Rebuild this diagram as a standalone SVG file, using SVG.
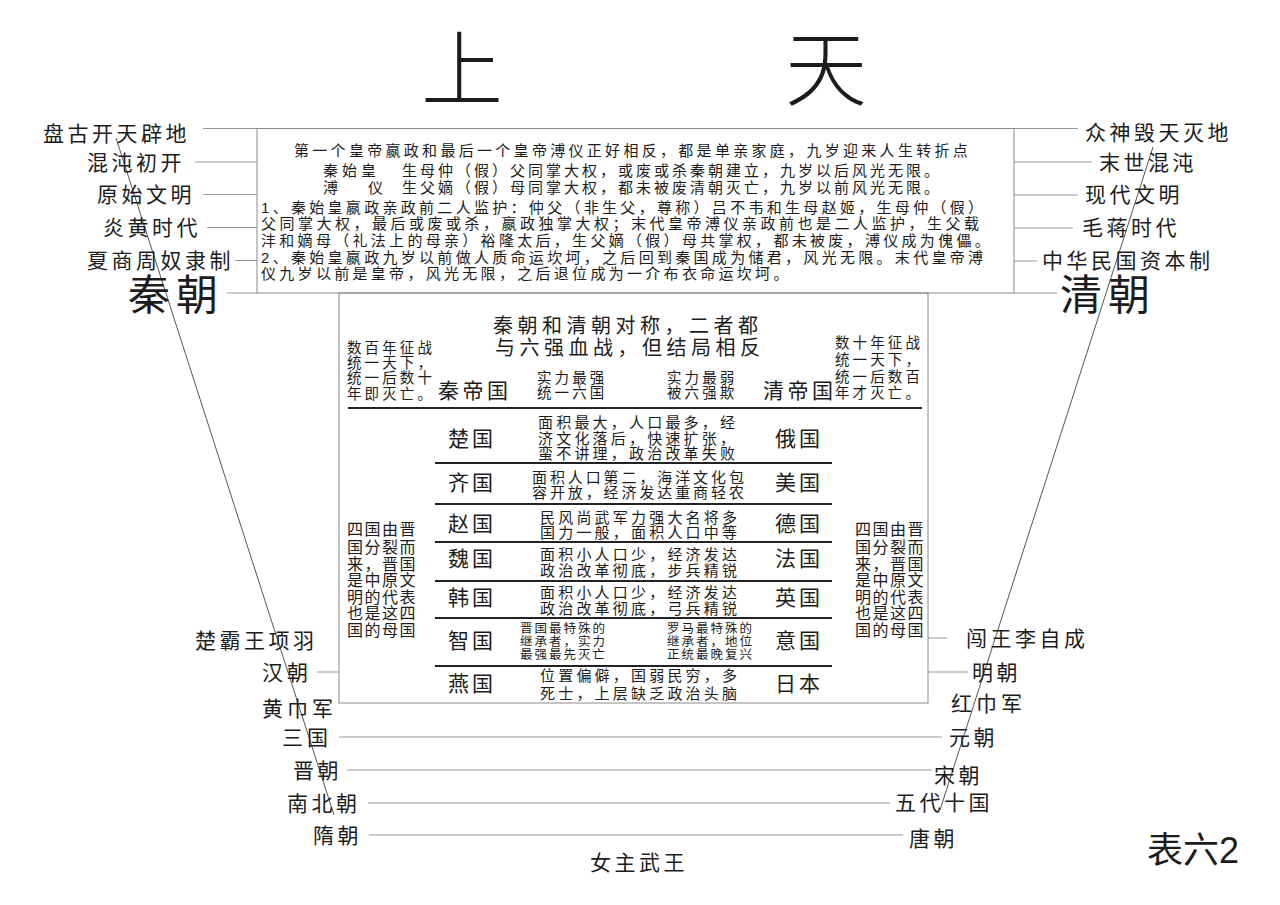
<svg xmlns="http://www.w3.org/2000/svg" width="1280" height="905" viewBox="0 0 1280 905">
<style>
text{font-family:"Liberation Sans","Noto Sans CJK SC",sans-serif;fill:#1c1c1c;dominant-baseline:central}
.t{font-size:82px;font-weight:300}
.l{font-size:21px;letter-spacing:3.5px}
.h{font-size:20px;letter-spacing:4.5px}
.big{font-size:42px;letter-spacing:6px}
.p{font-size:15px;letter-spacing:3.3px}
.s{font-size:14.5px;letter-spacing:3.1px}
.n{font-size:21px;letter-spacing:3px}
.d{font-size:15px;letter-spacing:3.2px}
.x{font-size:12.5px;letter-spacing:2px}
.v{font-size:16px;letter-spacing:1.5px}
.box{fill:none;stroke:#8a8a8a;stroke-width:1}
.c{stroke:#999;stroke-width:1;fill:none}
.diag{stroke:#555;stroke-width:1;fill:none}
.rule{stroke:#222;stroke-width:2}
</style>
<rect width="1280" height="905" fill="#fff"/>

<g id="title">
<text class="t" x="462" y="70" text-anchor="middle">上</text>
<text class="t" x="826" y="70" text-anchor="middle">天</text>
</g>

<g id="connectors">
<line class="c" x1="203" y1="128.5" x2="257" y2="128.5"/>
<line class="c" x1="195" y1="162" x2="257" y2="162"/>
<line class="c" x1="203" y1="194.5" x2="257" y2="194.5"/>
<line class="c" x1="207" y1="227.5" x2="257" y2="227.5"/>
<line class="c" x1="235" y1="260.5" x2="257" y2="260.5"/>
<line class="c" x1="227" y1="293" x2="257" y2="293"/>
<line class="c" x1="1014" y1="128.5" x2="1078" y2="128.5"/>
<line class="c" x1="1014" y1="162" x2="1092" y2="162"/>
<line class="c" x1="1014" y1="195" x2="1078" y2="195"/>
<line class="c" x1="1014" y1="228" x2="1073" y2="228"/>
<line class="c" x1="1014" y1="261" x2="1037" y2="261"/>
<line class="c" x1="1014" y1="293" x2="1057" y2="293"/>
<line class="c" x1="317" y1="672" x2="339" y2="672"/>
<line class="c" x1="928" y1="638" x2="947" y2="638"/>
<line class="c" x1="928" y1="672" x2="968" y2="672"/>
<line class="c" x1="339" y1="737" x2="942" y2="737"/>
<line class="c" x1="347" y1="770" x2="932" y2="770"/>
<line class="c" x1="368" y1="803" x2="890" y2="803"/>
<line class="c" x1="369" y1="835" x2="903" y2="835"/>
<line class="diag" x1="116" y1="138" x2="334" y2="815"/>
<line class="diag" x1="1153" y1="147" x2="940" y2="810"/>
</g>

<g id="left-labels">
<text class="l" x="43" y="133">盘古开天辟地</text>
<text class="l" x="87" y="162">混沌初开</text>
<text class="l" x="97" y="194">原始文明</text>
<text class="l" x="103" y="227">炎黄时代</text>
<text class="l" x="87" y="260">夏商周奴隶制</text>
<text class="big" x="128" y="295">秦朝</text>
</g>

<g id="right-labels">
<text class="l" x="1085" y="132">众神毁天灭地</text>
<text class="l" x="1099" y="162">末世混沌</text>
<text class="l" x="1085" y="194">现代文明</text>
<text class="l" x="1082" y="227">毛蒋时代</text>
<text class="l" x="1042" y="260">中华民国资本制</text>
<text class="big" x="1060" y="295">清朝</text>
</g>

<g id="top-box">
<rect class="box" x="257" y="128.5" width="757" height="164.5"/>
<text class="p" x="294" y="150">第一个皇帝嬴政和最后一个皇帝溥仪正好相反，都是单亲家庭，九岁迎来人生转折点</text>
<text class="p" x="323" y="170" style="letter-spacing:4px">秦始皇</text>
<text class="p" x="402" y="170" style="letter-spacing:3px">生母仲（假）父同掌大权，或废或杀秦朝建立，九岁以后风光无限。</text>
<text class="p" x="323" y="187">溥</text>
<text class="p" x="368" y="187">仪</text>
<text class="p" x="402" y="187" style="letter-spacing:3px">生父嫡（假）母同掌大权，都未被废清朝灭亡，九岁以前风光无限。</text>
<text class="p" x="261" y="207">1、秦始皇嬴政亲政前二人监护：仲父（非生父，尊称）吕不韦和生母赵姬，生母仲（假）</text>
<text class="p" x="261" y="223" style="letter-spacing:3.5px">父同掌大权，最后或废或杀，嬴政独掌大权；末代皇帝溥仪亲政前也是二人监护，生父载</text>
<text class="p" x="261" y="240">沣和嫡母（礼法上的母亲）裕隆太后，生父嫡（假）母共掌权，都未被废，溥仪成为傀儡。</text>
<text class="p" x="261" y="257">2、秦始皇嬴政九岁以前做人质命运坎坷，之后回到秦国成为储君，风光无限。末代皇帝溥</text>
<text class="p" x="261" y="273">仪九岁以前是皇帝，风光无限，之后退位成为一介布衣命运坎坷。</text>
</g>

<g id="center-box">
<rect class="box" x="339" y="293" width="589" height="410"/>
<text class="h" x="493" y="326">秦朝和清朝对称，二者都</text>
<text class="h" x="495" y="348">与六强血战，但结局相反</text>
<g id="qin-note">
<text class="s" x="347" y="348">数百年征战</text>
<text class="s" x="347" y="363">统一天下，</text>
<text class="s" x="347" y="378">统一后数十</text>
<text class="s" x="347" y="394">年即灭亡。</text>
</g>
<text class="l" x="438" y="390">秦帝国</text>
<text class="s" x="537" y="378">实力最强</text>
<text class="s" x="537" y="393">统一六国</text>
<text class="s" x="667" y="378">实力最弱</text>
<text class="s" x="667" y="393">被六强欺</text>
<text class="l" x="763" y="390">清帝国</text>
<g id="qing-note">
<text class="s" x="835" y="343">数十年征战</text>
<text class="s" x="835" y="360">统一天下，</text>
<text class="s" x="835" y="377">统一后数百</text>
<text class="s" x="835" y="393">年才灭亡。</text>
</g>
<line class="rule" x1="348" y1="408" x2="922" y2="408"/>
<line class="rule" x1="435" y1="463" x2="832" y2="463"/>
<line class="rule" x1="435" y1="504" x2="832" y2="504"/>
<line class="rule" x1="435" y1="542" x2="832" y2="542"/>
<line class="rule" x1="435" y1="581" x2="832" y2="581"/>
<line class="rule" x1="435" y1="618" x2="832" y2="618"/>
<line class="rule" x1="435" y1="666" x2="832" y2="666"/>
</g>

<g id="row-chu">
<text class="n" x="448" y="438">楚国</text>
<text class="d" x="538" y="422">面积最大，人口最多，经</text>
<text class="d" x="538" y="438">济文化落后，快速扩张，</text>
<text class="d" x="538" y="453">蛮不讲理，政治改革失败</text>
<text class="n" x="775" y="438">俄国</text>
</g>
<g id="row-qi">
<text class="n" x="448" y="482">齐国</text>
<text class="d" x="532" y="477" style="letter-spacing:2.9px">面积人口第二，海洋文化包</text>
<text class="d" x="532" y="492" style="letter-spacing:2.9px">容开放，经济发达重商轻农</text>
<text class="n" x="775" y="482">美国</text>
</g>
<g id="row-zhao">
<text class="n" x="448" y="523">赵国</text>
<text class="d" x="540" y="517">民风尚武军力强大名将多</text>
<text class="d" x="540" y="532">国力一般，面积人口中等</text>
<text class="n" x="775" y="523">德国</text>
</g>
<g id="row-wei">
<text class="n" x="448" y="558">魏国</text>
<text class="d" x="540" y="554">面积小人口少，经济发达</text>
<text class="d" x="540" y="570">政治改革彻底，步兵精锐</text>
<text class="n" x="775" y="558">法国</text>
</g>
<g id="row-han">
<text class="n" x="448" y="597">韩国</text>
<text class="d" x="540" y="592">面积小人口少，经济发达</text>
<text class="d" x="540" y="608">政治改革彻底，弓兵精锐</text>
<text class="n" x="775" y="597">英国</text>
</g>
<g id="row-zhi">
<text class="n" x="448" y="640">智国</text>
<text class="x" x="520" y="629">晋国最特殊的</text>
<text class="x" x="520" y="642">继承者，实力</text>
<text class="x" x="520" y="655">最强最先灭亡</text>
<text class="x" x="667" y="629">罗马最特殊的</text>
<text class="x" x="667" y="642">继承者，地位</text>
<text class="x" x="667" y="655">正统最晚复兴</text>
<text class="n" x="775" y="640">意国</text>
</g>
<g id="row-yan">
<text class="n" x="448" y="683">燕国</text>
<text class="d" x="540" y="675">位置偏僻，国弱民穷，多</text>
<text class="d" x="540" y="693">死士，上层缺乏政治头脑</text>
<text class="n" x="775" y="683">日本</text>
</g>

<g id="jin-note-left">
<text class="v" x="347" y="529">四国由晋</text>
<text class="v" x="347" y="547">国分裂而</text>
<text class="v" x="347" y="564">来，晋国</text>
<text class="v" x="347" y="580">是中原文</text>
<text class="v" x="347" y="597">明的代表</text>
<text class="v" x="347" y="613">也是这四</text>
<text class="v" x="347" y="630">国的母国</text>
</g>
<g id="jin-note-right">
<text class="v" x="855" y="529">四国由晋</text>
<text class="v" x="855" y="547">国分裂而</text>
<text class="v" x="855" y="564">来，晋国</text>
<text class="v" x="855" y="580">是中原文</text>
<text class="v" x="855" y="597">明的代表</text>
<text class="v" x="855" y="613">也是这四</text>
<text class="v" x="855" y="630">国的母国</text>
</g>

<g id="bottom-left">
<text class="l" x="195" y="640">楚霸王项羽</text>
<text class="l" x="262" y="672" style="letter-spacing:4px">汉朝</text>
<text class="l" x="262" y="708" style="letter-spacing:4px">黄巾军</text>
<text class="l" x="282" y="737" style="letter-spacing:4px">三国</text>
<text class="l" x="293" y="770">晋朝</text>
<text class="l" x="287" y="803">南北朝</text>
<text class="l" x="313" y="835">隋朝</text>
</g>
<g id="bottom-right">
<text class="l" x="966" y="638">闯王李自成</text>
<text class="l" x="972" y="672">明朝</text>
<text class="l" x="951" y="703" style="letter-spacing:4px">红巾军</text>
<text class="l" x="949" y="737">元朝</text>
<text class="l" x="934" y="775">宋朝</text>
<text class="l" x="895" y="802">五代十国</text>
<text class="l" x="909" y="838">唐朝</text>
</g>
<g id="bottom-center">
<text class="l" x="590" y="862">女主武王</text>
</g>
<g id="table-label">
<text x="1147" y="850" style="font-size:36px">表六2</text>
</g>
</svg>
